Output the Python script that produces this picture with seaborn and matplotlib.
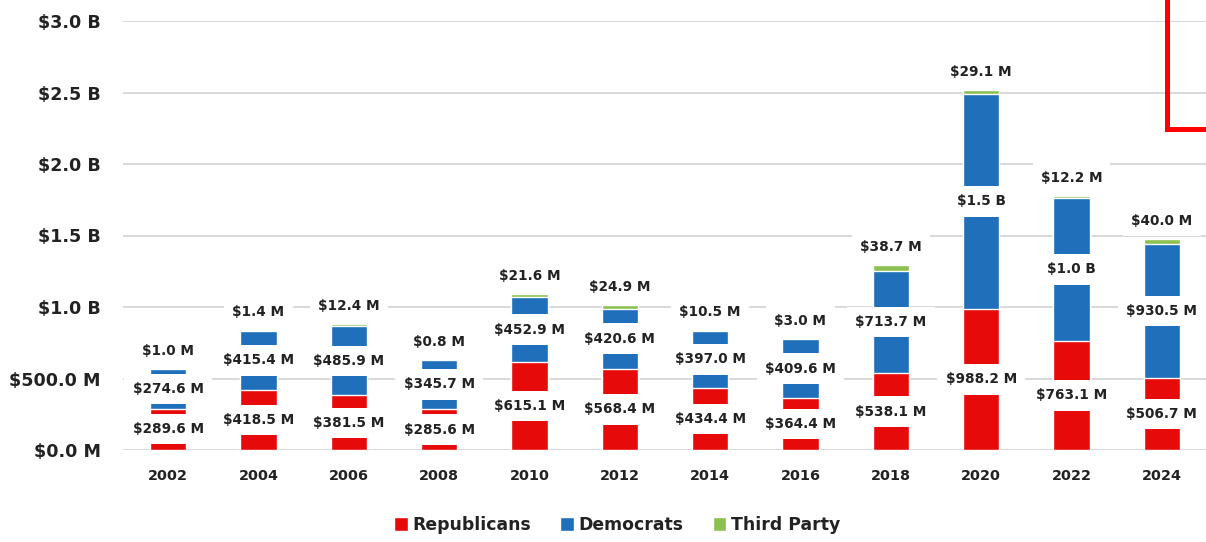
import matplotlib
matplotlib.use("Agg")
import matplotlib.pyplot as plt
from matplotlib.patches import Patch
from matplotlib.lines import Line2D
import seaborn as sns
import pandas as pd

# Campaign spending by party, in millions of dollars
years = ["2002", "2004", "2006", "2008", "2010", "2012",
         "2014", "2016", "2018", "2020", "2022", "2024"]
republicans = [289.6, 418.5, 381.5, 285.6, 615.1, 568.4,
               434.4, 364.4, 538.1, 988.2, 763.1, 506.7]
democrats = [274.6, 415.4, 485.9, 345.7, 452.9, 420.6,
             397.0, 409.6, 713.7, 1500.0, 1000.0, 930.5]
third_party = [1.0, 1.4, 12.4, 0.8, 21.6, 24.9,
               10.5, 3.0, 38.7, 29.1, 12.2, 40.0]

y_ticks = [0, 500, 1000, 1500, 2000, 2500, 3000]
y_tick_labels = ["$0.0 M", "$500.0 M", "$1.0 B", "$1.5 B", "$2.0 B", "$2.5 B", "$3.0 B"]

RED = "#E60A0A"
BLUE = "#1F6FBA"
GREEN = "#8CC152"
TEXT = "#222222"
GRID = "#D6D6D6"

sns.set_theme(style="white")
plt.rcParams["font.family"] = ["DejaVu Sans"]

df = pd.DataFrame({
    "year": years,
    "rep": republicans,
    "dem": democrats,
    "third": third_party,
})
df["rep_dem"] = df["rep"] + df["dem"]
df["total"] = df["rep_dem"] + df["third"]


def money(v):
    if v >= 1000:
        return f"${v / 1000:.1f} B"
    return f"${v:.1f} M"


fig = plt.figure(figsize=(12.06, 5.42), dpi=100)
ax = fig.add_axes([123 / 1206, 92 / 542, 1084 / 1206, 429 / 542])

# Stacked bars: draw cumulative heights from the back
for col, color in [("total", GREEN), ("rep_dem", BLUE), ("rep", RED)]:
    sns.barplot(data=df, x="year", y=col, color=color, saturation=1,
                width=0.4, ax=ax, zorder=2)

ax.set_xlim(-0.5, len(years) - 0.5)
ax.set_ylim(0, 3000)
ax.set_yticks(y_ticks)
ax.set_yticklabels(y_tick_labels)
ax.set_xlabel("")
ax.set_ylabel("")
for s in ax.spines.values():
    s.set_visible(False)
ax.grid(axis="y", color=GRID, linewidth=1.3, zorder=0)
ax.set_axisbelow(True)
ax.tick_params(axis="both", length=0, colors=TEXT)
ax.tick_params(axis="y", pad=16, labelsize=12.6)
ax.tick_params(axis="x", pad=14, labelsize=10.4)
for lab in ax.get_xticklabels() + ax.get_yticklabels():
    lab.set_fontweight("bold")
    lab.set_color(TEXT)

box = dict(boxstyle="square,pad=0.6", facecolor="white", edgecolor="none")
lab_kw = dict(ha="center", va="center", fontsize=9.8, fontweight="bold",
              color=TEXT, bbox=box, zorder=5)

for i, row in df.iterrows():
    ax.text(i, row["rep"] / 2, money(row["rep"]), **lab_kw)
    ax.text(i, row["rep"] + row["dem"] / 2, money(row["dem"]), **lab_kw)
    ax.annotate(money(row["third"]), xy=(i, row["total"]), xytext=(0, 13),
                textcoords="offset points", annotation_clip=False, **lab_kw)

handles = [Patch(facecolor=RED, label="Republicans"),
           Patch(facecolor=BLUE, label="Democrats"),
           Patch(facecolor=GREEN, label="Third Party")]
leg = fig.legend(handles=handles, loc="center", ncol=3, frameon=False,
                 bbox_to_anchor=(617 / 1206, 1 - 525 / 542),
                 handlelength=0.8, handleheight=0.8, handletextpad=0.25,
                 columnspacing=1.7, prop={"weight": "bold", "size": 12.4})
for t in leg.get_texts():
    t.set_color(TEXT)

# Red callout frame in the upper right corner
fig.add_artist(Line2D([1167 / 1206, 1167 / 1206, 1.01], [1.01, 1 - 129 / 542, 1 - 129 / 542],
                      transform=fig.transFigure, color="#FF0000", linewidth=3.6,
                      solid_joinstyle="miter"))

fig.savefig("out.png", dpi=100)
